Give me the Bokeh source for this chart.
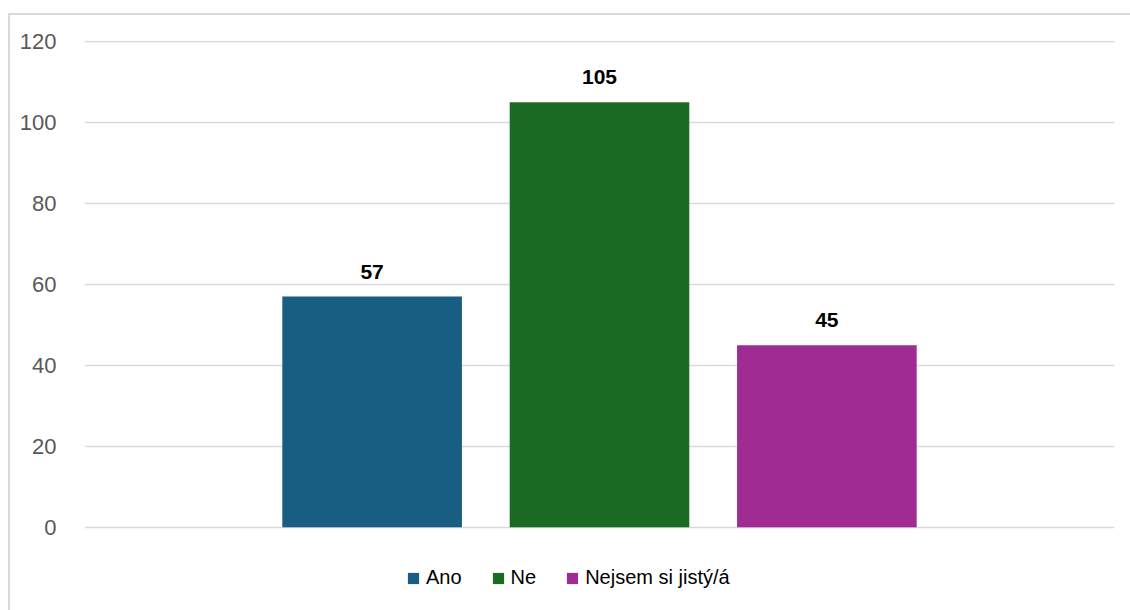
from bokeh.plotting import figure
from bokeh.models import FactorRange, Range1d, FixedTicker, ColumnDataSource, Legend, LegendItem, LabelSet
from bokeh.core.properties import value
from bokeh.embed import file_html
from bokeh.resources import INLINE

categories = ["Ano", "Ne", "Nejsem si jistý/á"]
values = [57, 105, 45]
colors = ["#175E82", "#1C6B24", "#A02B93"]
y_ticks = [0, 20, 40, 60, 80, 100, 120]

src = ColumnDataSource(dict(cat=categories, val=values, color=colors,
                            lbl=[str(v) for v in values]))

p = figure(width=1122, height=597, output_backend="svg", toolbar_location=None,
           x_range=FactorRange(factors=categories, range_padding=0.51, range_padding_units="percent"),
           y_range=Range1d(-20.54, 120.25),
           min_border_left=74, min_border_right=18, min_border_top=25, min_border_bottom=2,
           margin=(13, 0, 0, 8),
           styles={"border-left": "2px solid #d9d9d9", "border-top": "2px solid #d9d9d9",
                   "box-sizing": "border-box"})
p.outline_line_color = None
p.background_fill_color = "white"
p.border_fill_color = "white"

r = p.vbar(x="cat", top="val", width=0.79, color="color", source=src, line_color=None)

p.xaxis.visible = False
p.xgrid.grid_line_color = None
p.ygrid.grid_line_color = "#d9d9d9"
p.ygrid.grid_line_width = 1.5
p.yaxis.ticker = FixedTicker(ticks=y_ticks)
p.yaxis.axis_line_color = None
p.yaxis.major_tick_line_color = None
p.yaxis.minor_tick_line_color = None
p.yaxis.major_label_standoff = 22
p.yaxis.major_label_text_font = "Liberation Sans"
p.yaxis.major_label_text_font_size = "22px"
p.yaxis.major_label_text_color = "#595959"

labels = LabelSet(x="cat", y="val", text="lbl", source=src, text_align="center",
                  text_baseline="bottom", y_offset=18, text_font=value("Liberation Sans"),
                  text_font_style="bold", text_font_size="21px", text_color="#000000")
p.add_layout(labels)

items = [LegendItem(label=c, renderers=[r], index=i) for i, c in enumerate(categories)]
legend = Legend(items=items, orientation="horizontal", location=(322, 21),
                glyph_width=14, glyph_height=14, label_standoff=6, spacing=29,
                padding=0, margin=0, border_line_color=None, background_fill_alpha=0,
                label_text_font="Liberation Sans", label_text_font_size="20px",
                label_text_color="#000000")
p.add_layout(legend, "center")

open("out.html", "w").write(file_html(p, INLINE))
